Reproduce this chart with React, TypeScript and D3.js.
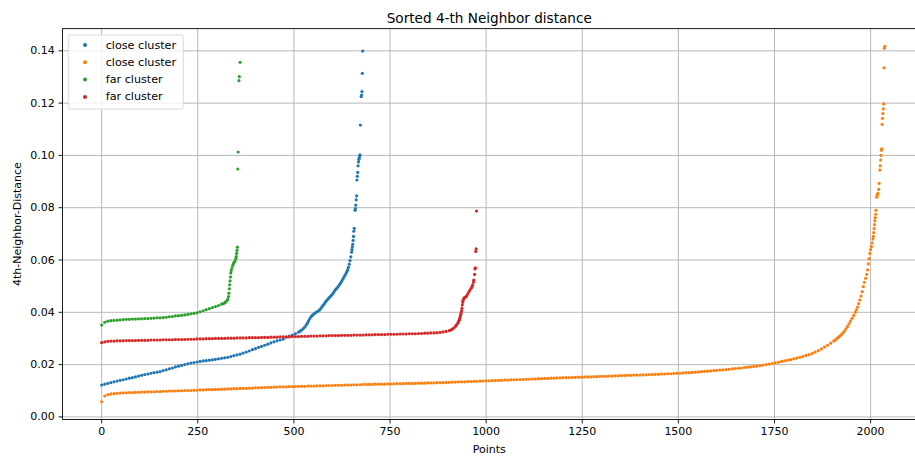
import React from 'react';
import * as d3 from 'd3';

// Sorted distance to the 4th nearest neighbour, one series per cluster run.
// Dense part of each curve: values every BODY_STEP points starting at index 0.
// Steep end of each curve: explicit [index, distance] pairs.
const BODY_STEP = 8;

const seriesLabels = ['close cluster', 'close cluster', 'far cluster', 'far cluster'];
const seriesColors = ['#1f77b4', '#ff7f0e', '#2ca02c', '#d62728'];

const closeABody = [
  0.0122, 0.0125, 0.0128, 0.0131, 0.0134, 0.0137, 0.0140, 0.0142, 0.0145, 0.0148,
  0.0150, 0.0153, 0.0156, 0.0159, 0.0162, 0.0164, 0.0167, 0.0169, 0.0171, 0.0173,
  0.0177, 0.0180, 0.0184, 0.0187, 0.0191, 0.0194, 0.0197, 0.0200, 0.0203, 0.0206,
  0.0208, 0.0210, 0.0212, 0.0214, 0.0215, 0.0217, 0.0218, 0.0220, 0.0222, 0.0224,
  0.0226, 0.0228, 0.0231, 0.0234, 0.0237, 0.0240, 0.0244, 0.0248, 0.0252, 0.0257,
  0.0261, 0.0266, 0.0270, 0.0274, 0.0278, 0.0283, 0.0287, 0.0291, 0.0294, 0.0297,
  0.0305, 0.0309, 0.0313, 0.0318, 0.0324,
];
const closeATail: [number, number][] = [
  [516, 0.0328], [520, 0.0332], [524, 0.0337], [528, 0.0343], [532, 0.0351],
  [535, 0.0358], [538, 0.0366], [541, 0.0375], [544, 0.0382], [547, 0.0387],
  [550, 0.0391], [554, 0.0396], [558, 0.0400], [562, 0.0404], [566, 0.0408],
  [570, 0.0414], [573, 0.0421], [576, 0.0427], [579, 0.0433], [582, 0.0439],
  [585, 0.0445], [588, 0.0450], [591, 0.0455], [594, 0.0459], [597, 0.0464],
  [600, 0.0469], [603, 0.0475], [606, 0.0482], [609, 0.0488], [612, 0.0493],
  [615, 0.0498], [618, 0.0504], [621, 0.0511], [624, 0.0518], [627, 0.0526],
  [630, 0.0534], [633, 0.0542], [636, 0.0550], [638, 0.0556], [640, 0.0563],
  [642, 0.0572], [644, 0.0584], [646, 0.0598], [648, 0.0612], [650, 0.0630],
  [651, 0.0640], [652, 0.0650], [653, 0.0660], [654, 0.0675], [655, 0.0690],
  [656, 0.0710], [657, 0.0721], [659, 0.0790], [660, 0.0797], [661, 0.0810],
  [662, 0.0830], [663, 0.0845], [664, 0.0906], [665, 0.0920], [666, 0.0935],
  [667, 0.0960], [668, 0.0975], [669, 0.0985], [670, 0.0990], [671, 0.0998],
  [672, 0.1002], [673, 0.1116], [675, 0.1225], [676, 0.1231], [677, 0.1244],
  [678, 0.1314], [679, 0.1399],
];

const closeBBody = [
  0.0058, 0.0080, 0.0085, 0.0088, 0.0089, 0.0090, 0.0091, 0.0092, 0.0092, 0.0093,
  0.0093, 0.0094, 0.0094, 0.0095, 0.0095, 0.0096, 0.0096, 0.0096, 0.0097, 0.0097,
  0.0098, 0.0098, 0.0099, 0.0099, 0.0099, 0.0100, 0.0100, 0.0101, 0.0101, 0.0101,
  0.0102, 0.0102, 0.0103, 0.0103, 0.0104, 0.0104, 0.0104, 0.0105, 0.0105, 0.0106,
  0.0106, 0.0107, 0.0107, 0.0108, 0.0108, 0.0109, 0.0109, 0.0109, 0.0110, 0.0110,
  0.0111, 0.0111, 0.0112, 0.0112, 0.0113, 0.0113, 0.0114, 0.0114, 0.0115, 0.0115,
  0.0115, 0.0116, 0.0116, 0.0116, 0.0117, 0.0117, 0.0117, 0.0118, 0.0118, 0.0118,
  0.0119, 0.0119, 0.0119, 0.0120, 0.0120, 0.0120, 0.0121, 0.0121, 0.0121, 0.0122,
  0.0122, 0.0122, 0.0123, 0.0123, 0.0123, 0.0124, 0.0124, 0.0124, 0.0124, 0.0125,
  0.0125, 0.0125, 0.0125, 0.0126, 0.0126, 0.0126, 0.0127, 0.0127, 0.0127, 0.0128,
  0.0128, 0.0128, 0.0128, 0.0129, 0.0129, 0.0129, 0.0130, 0.0130, 0.0130, 0.0131,
  0.0131, 0.0131, 0.0132, 0.0132, 0.0133, 0.0133, 0.0134, 0.0134, 0.0134, 0.0135,
  0.0135, 0.0136, 0.0136, 0.0137, 0.0137, 0.0138, 0.0138, 0.0139, 0.0139, 0.0140,
  0.0140, 0.0141, 0.0141, 0.0142, 0.0142, 0.0142, 0.0143, 0.0143, 0.0144, 0.0144,
  0.0145, 0.0145, 0.0146, 0.0146, 0.0147, 0.0147, 0.0148, 0.0148, 0.0149, 0.0149,
  0.0150, 0.0150, 0.0150, 0.0151, 0.0151, 0.0152, 0.0152, 0.0153, 0.0153, 0.0153,
  0.0154, 0.0154, 0.0155, 0.0155, 0.0155, 0.0156, 0.0156, 0.0157, 0.0157, 0.0158,
  0.0158, 0.0159, 0.0159, 0.0160, 0.0160, 0.0160, 0.0161, 0.0161, 0.0162, 0.0162,
  0.0163, 0.0163, 0.0164, 0.0164, 0.0165, 0.0165, 0.0166, 0.0167, 0.0167, 0.0168,
  0.0169, 0.0169, 0.0170, 0.0171, 0.0172, 0.0173, 0.0174, 0.0175, 0.0176, 0.0177,
  0.0178, 0.0179, 0.0180, 0.0181, 0.0182, 0.0184, 0.0185, 0.0186, 0.0187, 0.0189,
  0.0190, 0.0191, 0.0193, 0.0194, 0.0196, 0.0198, 0.0200, 0.0202, 0.0204, 0.0207,
  0.0209, 0.0212, 0.0214, 0.0217, 0.0219, 0.0222, 0.0225, 0.0228, 0.0231, 0.0235,
  0.0238, 0.0243, 0.0248, 0.0254, 0.0260, 0.0267, 0.0274, 0.0282, 0.0290,
];
const closeBTail: [number, number][] = [
  [1908, 0.0294], [1912, 0.0299], [1916, 0.0304], [1920, 0.0309], [1924, 0.0315],
  [1928, 0.0321], [1932, 0.0328], [1936, 0.0337], [1940, 0.0346], [1944, 0.0357],
  [1948, 0.0367], [1952, 0.0377], [1956, 0.0388],
  [1960, 0.0400], [1963, 0.0409], [1966, 0.0420], [1969, 0.0433], [1972, 0.0447],
  [1975, 0.0462], [1978, 0.0479], [1981, 0.0498], [1984, 0.0515], [1987, 0.0530],
  [1990, 0.0545], [1992, 0.0562], [1994, 0.0585], [1996, 0.0605], [1998, 0.0625],
  [2000, 0.0640], [2002, 0.0651], [2004, 0.0665], [2006, 0.0680], [2007, 0.0690],
  [2008, 0.0705], [2009, 0.0720], [2010, 0.0735], [2011, 0.0750], [2012, 0.0762],
  [2013, 0.0775], [2014, 0.0790], [2016, 0.0840], [2017, 0.0848], [2019, 0.0855],
  [2021, 0.0870], [2022, 0.0893], [2024, 0.0944], [2025, 0.0960], [2026, 0.0982],
  [2027, 0.1000], [2028, 0.1020], [2029, 0.1025], [2030, 0.1119], [2031, 0.1142],
  [2032, 0.1160], [2033, 0.1178], [2034, 0.1197], [2035, 0.1335], [2036, 0.1410],
  [2037, 0.1417],
];

const farABody = [
  0.0351, 0.0362, 0.0366, 0.0368, 0.0369, 0.0370, 0.0371, 0.0372, 0.0373, 0.0373,
  0.0374, 0.0374, 0.0375, 0.0375, 0.0376, 0.0376, 0.0377, 0.0378, 0.0379, 0.0379,
  0.0380, 0.0381, 0.0383, 0.0384, 0.0386, 0.0387, 0.0388, 0.0390, 0.0392, 0.0394,
  0.0396, 0.0398, 0.0402, 0.0406, 0.0410, 0.0414, 0.0418, 0.0422, 0.0426, 0.0431,
];
const farATail: [number, number][] = [
  [316, 0.0433], [320, 0.0436], [323, 0.0440], [326, 0.0445], [328, 0.0450],
  [330, 0.0460], [331, 0.0473], [332, 0.0490], [333, 0.0505], [334, 0.0520],
  [335, 0.0535], [336, 0.0550], [337, 0.0560], [339, 0.0570], [341, 0.0580],
  [343, 0.0587], [345, 0.0592], [347, 0.0596], [349, 0.0605], [350, 0.0613],
  [351, 0.0625], [352, 0.0637], [353, 0.0649], [354, 0.0948], [355, 0.1013],
  [357, 0.1286], [358, 0.1301], [360, 0.1356],
];

const farBBody = [
  0.0284, 0.0287, 0.0289, 0.0290, 0.0290, 0.0291, 0.0291, 0.0291, 0.0292, 0.0292,
  0.0292, 0.0292, 0.0293, 0.0293, 0.0293, 0.0293, 0.0294, 0.0294, 0.0294, 0.0294,
  0.0295, 0.0295, 0.0295, 0.0295, 0.0296, 0.0296, 0.0296, 0.0296, 0.0297, 0.0297,
  0.0297, 0.0298, 0.0298, 0.0298, 0.0299, 0.0299, 0.0299, 0.0300, 0.0300, 0.0300,
  0.0300, 0.0301, 0.0301, 0.0301, 0.0302, 0.0302, 0.0302, 0.0302, 0.0303, 0.0303,
  0.0303, 0.0303, 0.0304, 0.0304, 0.0304, 0.0305, 0.0305, 0.0305, 0.0306, 0.0306,
  0.0306, 0.0306, 0.0307, 0.0307, 0.0307, 0.0308, 0.0308, 0.0308, 0.0309, 0.0309,
  0.0309, 0.0310, 0.0310, 0.0310, 0.0311, 0.0311, 0.0311, 0.0311, 0.0312, 0.0312,
  0.0312, 0.0312, 0.0313, 0.0313, 0.0313, 0.0313, 0.0314, 0.0314, 0.0314, 0.0315,
  0.0315, 0.0315, 0.0315, 0.0316, 0.0316, 0.0316, 0.0316, 0.0317, 0.0317, 0.0317,
  0.0318, 0.0318, 0.0318, 0.0319, 0.0319, 0.0320, 0.0320, 0.0321, 0.0321, 0.0322,
  0.0323, 0.0325, 0.0327, 0.0330,
];
const farBTail: [number, number][] = [
  [908, 0.0332], [912, 0.0336], [916, 0.0340], [920, 0.0346], [923, 0.0352],
  [926, 0.0358], [928, 0.0364], [930, 0.0370], [931, 0.0375], [932, 0.0380],
  [933, 0.0386], [934, 0.0392], [935, 0.0398], [936, 0.0405], [937, 0.0415],
  [938, 0.0428], [939, 0.0438], [940, 0.0446], [942, 0.0453], [944, 0.0456],
  [946, 0.0458], [949, 0.0462], [952, 0.0470], [955, 0.0478], [958, 0.0485],
  [961, 0.0492], [963, 0.0498], [965, 0.0504], [967, 0.0515], [968, 0.0523],
  [970, 0.0545], [971, 0.0566], [972, 0.0570], [973, 0.0633], [974, 0.0643],
  [975, 0.0787],
];

const xTicks = [0, 250, 500, 750, 1000, 1250, 1500, 1750, 2000];
const yTicks = [0, 0.02, 0.04, 0.06, 0.08, 0.1, 0.12, 0.14];

const titleText = 'Sorted 4-th Neighbor distance';
const xLabelText = 'Points';
const yLabelText = '4th-Neighbor-Distance';

const W = 915;
const H = 459;
const plot = { left: 62.5, top: 28.6, right: 924, bottom: 419.5 };
const FONT = '"DejaVu Sans", sans-serif';
const DOT_R = 1.6;

function toPoints(body: number[], tail: [number, number][]): [number, number][] {
  const pts: [number, number][] = body.map((v, k) => [k * BODY_STEP, v]);
  return pts.concat(tail);
}

const series = [
  toPoints(closeABody, closeATail),
  toPoints(closeBBody, closeBTail),
  toPoints(farABody, farATail),
  toPoints(farBBody, farBTail),
];

function padded(ext: [number, number]): [number, number] {
  const m = (ext[1] - ext[0]) * 0.05;
  return [ext[0] - m, ext[1] + m];
}

export default function App() {
  const all = series.flat();
  const xDom = padded(d3.extent(all, (d) => d[0]) as [number, number]);
  const yDom = padded(d3.extent(all, (d) => d[1]) as [number, number]);
  const x = d3.scaleLinear().domain(xDom).range([plot.left, plot.right]);
  const y = d3.scaleLinear().domain(yDom).range([plot.bottom, plot.top]);
  const fmtY = d3.format('.2f');

  const legendY0 = 45;
  const legendDy = 17.3;

  return (
    <div style={{ position: 'absolute', left: 0, top: 0 }}>
      <svg width={W} height={H} style={{ display: 'block', background: '#fff' }}>
        <rect x={0} y={0} width={W} height={H} fill="#fff" />
        {/* grid */}
        <g stroke="#b0b0b0" strokeWidth={0.9}>
          {xTicks.map((t) => (
            <line key={'gx' + t} x1={x(t)} x2={x(t)} y1={plot.top} y2={plot.bottom} />
          ))}
          {yTicks.map((t) => (
            <line key={'gy' + t} x1={plot.left} x2={plot.right} y1={y(t)} y2={y(t)} />
          ))}
        </g>
        {/* points */}
        {series.map((pts, si) => (
          <g key={'s' + si} fill={seriesColors[si]}>
            {pts.map((p, i) => (
              <circle key={i} cx={x(p[0])} cy={y(p[1])} r={DOT_R} />
            ))}
          </g>
        ))}
        {/* spines */}
        <g stroke="#000" strokeWidth={0.9} fill="none">
          <line x1={plot.left} x2={plot.right} y1={plot.top} y2={plot.top} />
          <line x1={plot.left} x2={plot.right} y1={plot.bottom} y2={plot.bottom} />
          <line x1={plot.left} x2={plot.left} y1={plot.top} y2={plot.bottom} />
          <line x1={plot.right} x2={plot.right} y1={plot.top} y2={plot.bottom} />
        </g>
        {/* axis ticks */}
        <g fontFamily={FONT} fontSize={11} fill="#000">
          {xTicks.map((t) => (
            <g key={'xt' + t}>
              <line x1={x(t)} x2={x(t)} y1={plot.bottom} y2={plot.bottom + 3.9} stroke="#000" strokeWidth={0.9} />
              <text x={x(t)} y={plot.bottom + 7.8} textAnchor="middle" dominantBaseline="hanging">
                {t}
              </text>
            </g>
          ))}
          {yTicks.map((t) => (
            <g key={'yt' + t}>
              <line x1={plot.left - 3.9} x2={plot.left} y1={y(t)} y2={y(t)} stroke="#000" strokeWidth={0.9} />
              <text x={plot.left - 7.8} y={y(t)} textAnchor="end" dominantBaseline="central">
                {fmtY(t)}
              </text>
            </g>
          ))}
        </g>
        {/* titles */}
        <text x={(plot.left + plot.right) / 2 - 4} y={17.5} textAnchor="middle" dominantBaseline="central"
          fontFamily={FONT} fontSize={13.6} fill="#000">
          {titleText}
        </text>
        <text x={(plot.left + plot.right) / 2 - 4} y={449} textAnchor="middle" dominantBaseline="central"
          fontFamily={FONT} fontSize={11} fill="#000">
          {xLabelText}
        </text>
        <text transform={`translate(17,${(plot.top + plot.bottom) / 2}) rotate(-90)`} textAnchor="middle"
          dominantBaseline="central" fontFamily={FONT} fontSize={11} fill="#000">
          {yLabelText}
        </text>
        {/* legend */}
        <g>
          <rect x={68.3} y={35} width={115} height={74} rx={2.5} fill="#fff" fillOpacity={0.8}
            stroke="#cccccc" strokeOpacity={0.8} strokeWidth={0.9} />
          {seriesLabels.map((lab, i) => (
            <g key={'lg' + i}>
              <circle cx={85} cy={legendY0 + i * legendDy} r={2} fill={seriesColors[i]} />
              <text x={105.7} y={legendY0 + i * legendDy} dominantBaseline="central" fontFamily={FONT}
                fontSize={11.2} fill="#000">
                {lab}
              </text>
            </g>
          ))}
        </g>
      </svg>
    </div>
  );
}
